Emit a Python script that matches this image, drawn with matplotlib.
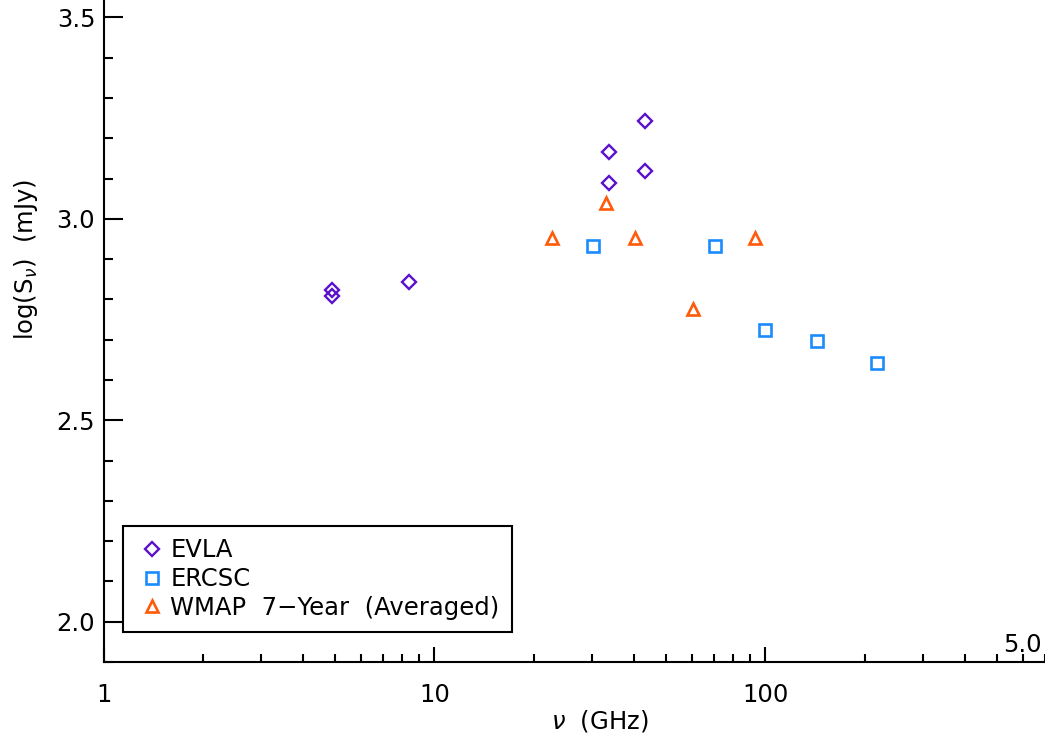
import numpy as np
import matplotlib
matplotlib.use('Agg')
import matplotlib.pyplot as plt
from matplotlib.ticker import MultipleLocator, LogLocator, NullFormatter, FixedLocator, FixedFormatter

# ── Data ──────────────────────────────────────────────────────────
evla_nu   = [4.9, 4.9, 8.4, 33.7, 33.7, 43.4, 43.4]
evla_logS = [2.824, 2.809, 2.844, 3.166, 3.089, 3.244, 3.118]

ercsc_nu   = [30.1, 70.3, 100.0, 143.0, 217.0]
ercsc_logS = [2.933, 2.933, 2.725, 2.697, 2.642]

wmap_nu   = [22.6, 33.0, 40.5, 60.4, 93.3]
wmap_logS = [2.952, 3.039, 2.952, 2.776, 2.952]

xticks     = [1, 10, 100, 1000]
xticklabs  = ['1', '10', '100', '']   # 1000 lies outside the cropped picture
yticks     = [2.0, 2.5, 3.0, 3.5]

C = {'evla': '#5a10cc', 'ercsc': '#1a8cff', 'wmap': '#ff5a0a'}

plt.rcParams['font.family'] = ['DejaVu Sans']
plt.rcParams['mathtext.fontset'] = 'dejavusans'

fig = plt.figure(figsize=(10.45, 7.41), dpi=100)
fig.patch.set_facecolor('white')
# original axes run past the cropped picture (top and right)
ax = fig.add_axes([0.0991, 0.1066, 0.950, 1.0873])
ax.set_facecolor('white')

ax.plot(evla_nu, evla_logS, ls='none', marker='D', ms=6.8, mfc='none',
        mec=C['evla'], mew=1.7, label='EVLA')
ax.plot(ercsc_nu, ercsc_logS, ls='none', marker='s', ms=8.2, mfc='none',
        mec=C['ercsc'], mew=1.9, label='ERCSC')
ax.plot(wmap_nu, wmap_logS, ls='none', marker='^', ms=8.5, mfc='none',
        mec=C['wmap'], mew=1.9, label='WMAP  7\u2212Year  (Averaged)')

ax.set_xscale('log')
ax.set_xlim(1, 1000)
ax.set_ylim(1.9, 3.9)

ax.xaxis.set_major_locator(FixedLocator(xticks))
ax.xaxis.set_major_formatter(FixedFormatter(xticklabs))
ax.xaxis.set_minor_locator(LogLocator(base=10, subs=np.arange(2, 10)))
ax.xaxis.set_minor_formatter(NullFormatter())
ax.yaxis.set_major_locator(FixedLocator(yticks))
ax.yaxis.set_minor_locator(MultipleLocator(0.1))
ax.set_yticklabels([f'{v:.1f}' for v in yticks])

for sp in ['top', 'right']:
    ax.spines[sp].set_visible(False)
for sp in ['left', 'bottom']:
    ax.spines[sp].set_linewidth(1.5)

ax.tick_params(axis='y', which='major', direction='in', length=13.5, width=1.5,
               labelsize=17.5, pad=6)
ax.tick_params(axis='y', which='minor', direction='in', length=6.5, width=1.5)
ax.tick_params(axis='x', which='major', direction='in', length=11, width=1.5,
               labelsize=17.5, pad=15)
ax.tick_params(axis='x', which='minor', direction='in', length=5.5, width=1.5)

ax.set_xlabel(r'$\nu$  (GHz)', fontsize=17.5)
ax.set_ylabel(r'log(S$_{\nu}$)  (mJy)', fontsize=17.5)
ax.xaxis.set_label_coords(0.5, -0.057)
ax.yaxis.set_label_coords(-0.064, 0.5)

leg = ax.legend(loc='lower left', bbox_to_anchor=(0.0195, 0.0372), fontsize=17.5,
                frameon=True, fancybox=False, edgecolor='black', framealpha=1,
                handlelength=1.4, handletextpad=0.05, borderpad=0.5,
                labelspacing=0.2, borderaxespad=0)
leg.get_frame().set_linewidth(1.5)

fig.text(1003/1045, 1 - 652/741, '5.0', fontsize=17.5, ha='left', va='baseline')

plt.savefig('out.png', dpi=100, facecolor='white')
plt.close()
